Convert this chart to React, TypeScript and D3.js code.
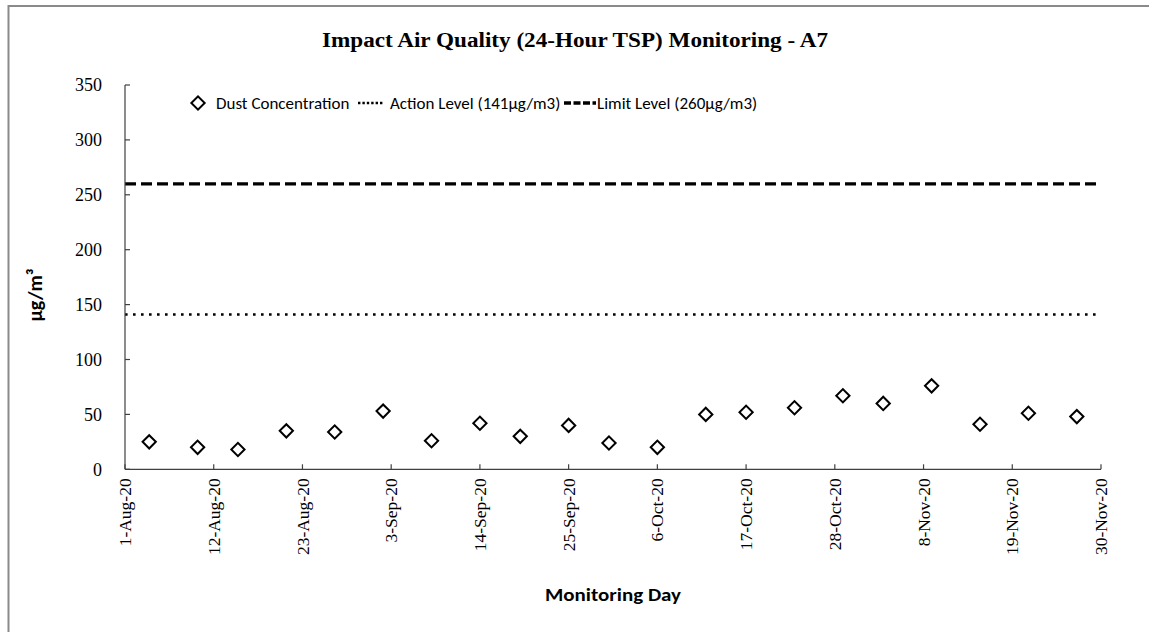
import React from "react";
import * as d3 from "d3";

const title = "Impact Air Quality (24-Hour TSP) Monitoring - A7";
const yAxisTitle = "µg/m³";
const xAxisTitle = "Monitoring Day";

const sampleDates = [
  "2020-08-04", "2020-08-10", "2020-08-15", "2020-08-21", "2020-08-27",
  "2020-09-02", "2020-09-08", "2020-09-14", "2020-09-19", "2020-09-25",
  "2020-09-30", "2020-10-06", "2020-10-12", "2020-10-17", "2020-10-23",
  "2020-10-29", "2020-11-03", "2020-11-09", "2020-11-15", "2020-11-21",
  "2020-11-27",
];
const dustValues = [25, 20, 18, 35, 34, 53, 26, 42, 30, 40, 24, 20, 50, 52, 56, 67, 60, 76, 41, 51, 48];

const actionLevel = 141;
const limitLevel = 260;

const xDomain = ["2020-08-01", "2020-11-30"];
const xTickDates = [
  "2020-08-01", "2020-08-12", "2020-08-23", "2020-09-03", "2020-09-14", "2020-09-25",
  "2020-10-06", "2020-10-17", "2020-10-28", "2020-11-08", "2020-11-19", "2020-11-30",
];
const yTicks = [0, 50, 100, 150, 200, 250, 300, 350];

const legendLabels = ["Dust Concentration", "Action Level (141µg/m3)", "Limit Level (260µg/m3)"];

const parse = d3.utcParse("%Y-%m-%d");
const fmt = d3.utcFormat("%-d-%b-%y");

export default function App() {
  const W = 1149;
  const H = 632;
  const left = 125;
  const right = 1101;
  const top = 85;
  const bottom = 469.3;

  const x = d3.scaleUtc().domain(xDomain.map((d) => parse(d) as Date)).range([left, right]);
  const y = d3.scaleLinear().domain([0, 350]).range([bottom, top]);

  const diamond = d3.symbol(d3.symbolSquare, 88)() as string;
  const sansFont = "Carlito, Lato, 'Open Sans', sans-serif";
  const serifFont = "'Liberation Serif', 'Times New Roman', serif";
  const axisColor = "#404040";

  const levelLine = d3.line<number>().x((d) => d).y(0);

  return (
    <svg
      width={W}
      height={H}
      style={{ position: "absolute", left: 0, top: 0, background: "#fff" }}
    >
      <rect x={0} y={0} width={W} height={H} fill="#fff" />
      <rect x={8.5} y={6} width={1200} height={700} fill="none" stroke="#8a8a8a" strokeWidth={2} />

      <text
        x={575}
        y={47}
        textAnchor="middle"
        fontFamily={serifFont}
        fontWeight="bold"
        fontSize={20}
        textLength={506}
        lengthAdjust="spacingAndGlyphs"
        fill="#000"
      >
        {title}
      </text>

      {/* level lines */}
      <path
        d={levelLine([left, right]) as string}
        transform={`translate(0,${y(limitLevel)})`}
        stroke="#000"
        strokeWidth={3.3}
        strokeDasharray="11 5"
        fill="none"
      />
      <path
        d={levelLine([left, right]) as string}
        transform={`translate(0,${y(actionLevel)})`}
        stroke="#000"
        strokeWidth={2.6}
        strokeDasharray="2.6 5.4"
        fill="none"
      />

      {/* axes */}
      <line x1={left} x2={left} y1={top} y2={bottom} stroke={axisColor} strokeWidth={1.2} />
      <line x1={left} x2={right} y1={bottom} y2={bottom} stroke={axisColor} strokeWidth={1.2} />
      {yTicks.map((t) => (
        <g key={"y" + t}>
          <line x1={left} x2={left + 5} y1={y(t)} y2={y(t)} stroke={axisColor} strokeWidth={1.2} />
          <text
            x={102}
            y={y(t)}
            dy="0.35em"
            textAnchor="end"
            fontFamily={serifFont}
            fontSize={18}
            fill="#000"
          >
            {t}
          </text>
        </g>
      ))}
      {xTickDates.map((s) => {
        const d = parse(s) as Date;
        const px = x(d);
        return (
          <g key={"x" + s}>
            <line x1={px} x2={px} y1={bottom} y2={bottom - 5} stroke={axisColor} strokeWidth={1.2} />
            <text
              transform={`translate(${px},${bottom + 9}) rotate(-90)`}
              dy="0.35em"
              textAnchor="end"
              fontFamily={serifFont}
              fontSize={17.5}
              fill="#000"
            >
              {fmt(d)}
            </text>
          </g>
        );
      })}

      {/* data points */}
      {dustValues.map((v, i) => (
        <path
          key={"p" + i}
          d={diamond}
          transform={`translate(${x(parse(sampleDates[i]) as Date)},${y(v)}) rotate(45)`}
          fill="#fff"
          stroke="#000"
          strokeWidth={2}
        />
      ))}

      {/* axis titles */}
      <text
        transform="translate(42,295) rotate(-90)"
        textAnchor="middle"
        fontFamily={sansFont}
        fontWeight="bold"
        fontSize={20}
        fill="#000"
      >
        {yAxisTitle}
      </text>
      <text
        x={613}
        y={601}
        textAnchor="middle"
        fontFamily={sansFont}
        fontWeight="bold"
        fontSize={19}
        textLength={136}
        lengthAdjust="spacingAndGlyphs"
        fill="#000"
      >
        {xAxisTitle}
      </text>

      {/* legend */}
      <g>
        <path d={diamond} transform="translate(198,103) rotate(45)" fill="#fff" stroke="#000" strokeWidth={2} />
        <text x={216} y={103} dy="0.35em" fontFamily={sansFont} fontSize={17} fill="#000">
          {legendLabels[0]}
        </text>
        <line x1={358} x2={384} y1={103} y2={103} stroke="#000" strokeWidth={2.4} strokeDasharray="2.4 2" />
        <text x={390} y={103} dy="0.35em" fontFamily={sansFont} fontSize={17} fill="#000">
          {legendLabels[1]}
        </text>
        <line x1={564} x2={596} y1={103} y2={103} stroke="#000" strokeWidth={3.3} strokeDasharray="7 2.5" />
        <text x={597} y={103} dy="0.35em" fontFamily={sansFont} fontSize={17} fill="#000">
          {legendLabels[2]}
        </text>
      </g>
    </svg>
  );
}
